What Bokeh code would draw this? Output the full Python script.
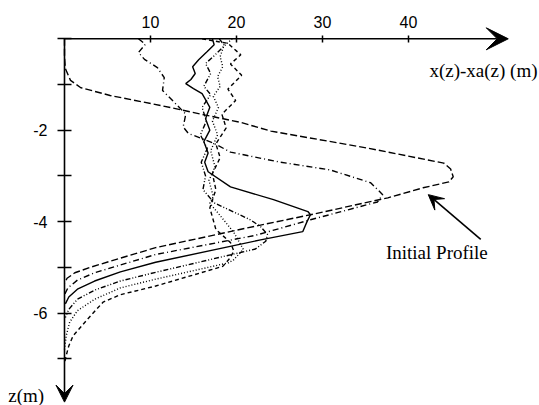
from bokeh.plotting import figure
from bokeh.models import Range1d, FixedTicker, Arrow, VeeHead, Label, CustomJSTickFormatter
from bokeh.embed import file_html
from bokeh.resources import INLINE

# ---- data ----
x_ticks = [10, 20, 30, 40]
z_ticks_labeled = [-2, -4, -6]
z_ticks_minor = [0, -1, -3, -5, -7]

# initial profile
p0_x = [0, 0, 0.1, 0.7, 1.9, 5.3, 11.2, 16.4, 20.5, 24.0, 35.2, 44.1, 44.9, 45.2, 44.7, 41.7, 37.6, 28.6, 22.2, 10.6, 6.5, 3.0, 1.2, 0.3, 0]
p0_z = [0, -0.4, -0.65, -0.91, -1.07, -1.24, -1.46, -1.67, -1.83, -2.02, -2.39, -2.72, -2.85, -3.02, -3.13, -3.26, -3.48, -3.85, -4.1, -4.57, -4.8, -5.0, -5.12, -5.24, -5.35]

p1_x = [8.6, 9.4, 8.6, 9.3, 10.8, 11.6, 11.4, 13.7, 14.1, 13.8, 14.4, 17.3, 19.3, 25.1, 30.9, 35.6, 37.0, 36.4, 28.6, 22.2, 10.6, 6.5, 3.5, 1.5, 0.4, 0]
p1_z = [0, -0.12, -0.3, -0.45, -0.63, -0.85, -1.13, -1.57, -1.65, -1.93, -2.07, -2.28, -2.48, -2.7, -2.87, -3.15, -3.41, -3.57, -3.96, -4.3, -4.72, -4.95, -5.12, -5.28, -5.45, -5.6]

p2_x = [17.2, 17.4, 16.6, 15.6, 14.9, 15.2, 14.7, 14.1, 15.0, 16.0, 16.3, 16.9, 16.4, 16.9, 16.2, 16.7, 16.3, 16.7, 19.3, 24.3, 28.3, 28.6, 28.2, 27.7, 22.8, 10.6, 6.5, 3.5, 1.5, 0.5, 0.1]
p2_z = [0, -0.13, -0.28, -0.46, -0.61, -0.76, -0.89, -0.98, -1.09, -1.2, -1.3, -1.5, -1.75, -2.0, -2.25, -2.5, -2.7, -2.91, -3.24, -3.52, -3.78, -3.85, -4.0, -4.22, -4.4, -4.89, -5.1, -5.3, -5.48, -5.65, -5.8]

p3_x = [18.0, 18.6, 17.3, 16.4, 17.0, 16.2, 17.0, 16.0, 16.5, 15.8, 16.6, 15.9, 16.4, 16.1, 17.4, 21.6, 22.8, 23.6, 23.4, 22.2, 10.6, 6.5, 3.5, 1.5, 0.5, 0.1]
p3_z = [0, -0.15, -0.39, -0.54, -0.76, -1.04, -1.22, -1.5, -1.8, -2.1, -2.4, -2.7, -3.0, -3.3, -3.59, -3.96, -4.11, -4.28, -4.43, -4.6, -5.11, -5.3, -5.5, -5.7, -5.92, -6.1]

p4_x = [19.5, 18.5, 18.1, 18.4, 17.8, 18.1, 17.3, 17.9, 17.2, 17.8, 17.0, 17.5, 16.8, 17.3, 16.9, 17.8, 19.7, 20.8, 19.7, 19.1, 10.6, 6.5, 3.5, 1.5, 0.6, 0.2, 0.0]
p4_z = [0, -0.17, -0.39, -0.61, -0.83, -1.04, -1.26, -1.5, -1.8, -2.1, -2.45, -2.8, -3.1, -3.45, -3.6, -3.8, -4.24, -4.61, -4.83, -4.9, -5.26, -5.45, -5.7, -5.95, -6.2, -6.5, -6.8]

p5_x = [16.0, 19.0, 20.5, 19.3, 20.6, 19.0, 19.9, 18.3, 18.8, 17.6, 18.1, 17.2, 17.6, 16.9, 17.6, 19.3, 19.7, 19.1, 18.4, 10.6, 6.5, 4.5, 2.7, 1.0, 0.5, 0.2, 0.0]
p5_z = [0, -0.1, -0.35, -0.55, -0.8, -1.1, -1.35, -1.65, -1.95, -2.3, -2.6, -2.95, -3.3, -3.7, -4.17, -4.46, -4.65, -4.83, -4.98, -5.41, -5.6, -5.76, -6.13, -6.5, -6.72, -6.93, -7.1]

x_label = "x(z)-xa(z) (m)"
z_label = "z(m)"
note_text = "Initial Profile"

# ---- layout constants ----
W, H = 539, 405
PX_X = 8.6          # pixels per x unit
PX_Z = 45.7         # pixels per z unit
ORIGIN_X = 64.0     # canvas pixel of x = 0
ORIGIN_Y = 38.3     # canvas pixel of z = 0
X_TIP = 51.6
Z_TIP = -7.95

x_range = Range1d(-ORIGIN_X / PX_X, (W - ORIGIN_X) / PX_X)
y_range = Range1d(-(H - ORIGIN_Y) / PX_Z, ORIGIN_Y / PX_Z)

p = figure(width=W, height=H, x_range=x_range, y_range=y_range,
           output_backend="svg", toolbar_location=None, title=None,
           x_axis_location="above", min_border=0)
p.outline_line_color = None
p.xgrid.visible = False
p.ygrid.visible = False
p.background_fill_color = "white"

SANS = "Liberation Sans"
SERIF = "Liberation Serif"

# x axis at z = 0
xa = p.xaxis[0]
xa.fixed_location = 0
xa.ticker = FixedTicker(ticks=x_ticks)
xa.axis_line_color = None
xa.major_tick_in = 4
xa.major_tick_out = 3
xa.major_tick_line_width = 1.5
xa.minor_tick_line_color = None
xa.major_label_standoff = 8
xa.major_label_text_font = SANS
xa.major_label_text_font_size = "16px"
xa.major_label_text_color = "black"

# z axis at x = 0
ya = p.yaxis[0]
ya.fixed_location = 0
ya.ticker = FixedTicker(ticks=z_ticks_labeled, minor_ticks=z_ticks_minor)
ya.formatter = CustomJSTickFormatter(code="return tick.toFixed(0);")
ya.axis_line_color = None
ya.major_tick_in = 7
ya.major_tick_out = 7
ya.minor_tick_in = 7
ya.minor_tick_out = 7
ya.major_tick_line_width = 1.5
ya.minor_tick_line_width = 1.5
ya.minor_tick_line_color = "black"
ya.major_label_standoff = 10
ya.major_label_text_font = SANS
ya.major_label_text_font_size = "16px"
ya.major_label_text_color = "black"

# axis lines with arrow heads
p.add_layout(Arrow(end=VeeHead(size=22, fill_color="black", line_color="black"),
                   x_start=0, y_start=0, x_end=X_TIP, y_end=0,
                   line_width=1.6, line_color="black"))
p.add_layout(Arrow(end=VeeHead(size=17, fill_color="black", line_color="black"),
                   x_start=0, y_start=0, x_end=0, y_end=Z_TIP,
                   line_width=1.6, line_color="black"))

# profiles
styles = [
    (p0_x, p0_z, "7 3"),
    (p1_x, p1_z, "6 3 1 3"),
    (p2_x, p2_z, "solid"),
    (p3_x, p3_z, "5 2 1 2 1 2"),
    (p4_x, p4_z, "1 2"),
    (p5_x, p5_z, "4 3"),
]
for xs, zs, dash in styles:
    p.line(xs, zs, line_color="black", line_width=1.4, line_dash=dash)

# annotation arrow for the initial profile
p.add_layout(Arrow(end=VeeHead(size=15, fill_color="black", line_color="black"),
                   x_start=48.4, y_start=-4.39, x_end=42.3, y_end=-3.41,
                   line_width=1.6, line_color="black"))

p.add_layout(Label(x=(W - 2 - ORIGIN_X) / PX_X, y=-0.7, text=x_label,
                   text_font=SERIF, text_font_size="19px", text_color="black",
                   text_align="right", text_baseline="middle"))
p.add_layout(Label(x=43.3, y=-4.68, text=note_text,
                   text_font=SERIF, text_font_size="19px", text_color="black",
                   text_align="center", text_baseline="middle"))
p.add_layout(Label(x=-ORIGIN_X / PX_X + 0.9, y=-7.8, text=z_label,
                   text_font=SERIF, text_font_size="19px", text_color="black",
                   text_align="left", text_baseline="middle"))

open("out.html", "w").write(file_html(p, INLINE))
